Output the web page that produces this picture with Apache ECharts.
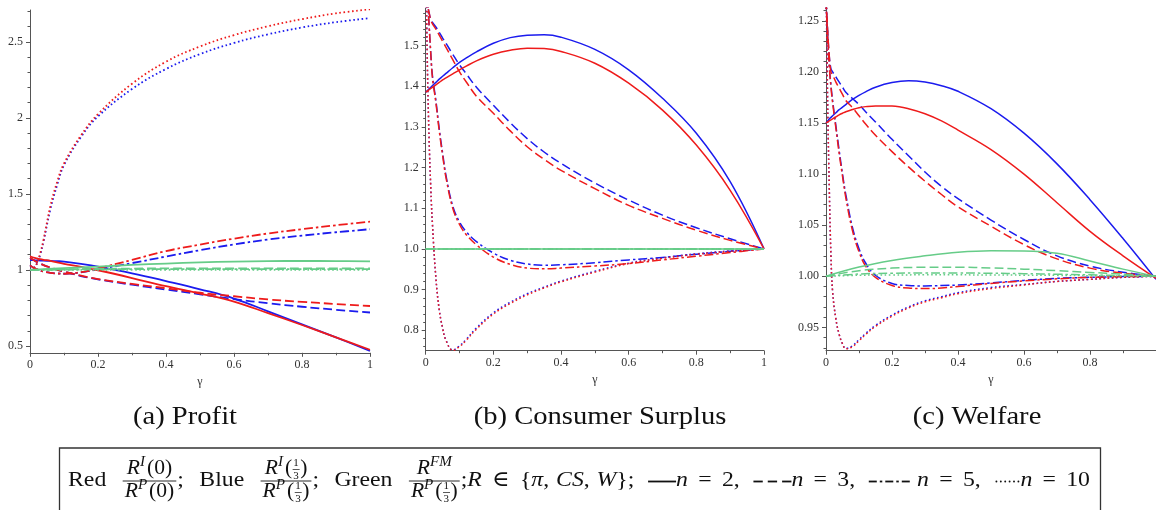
<!DOCTYPE html>
<html><head><meta charset="utf-8">
<script src="https://cdn.jsdelivr.net/npm/echarts@6/dist/echarts.min.js"></script>
<style>html,body{margin:0;padding:0;background:#fff}#c{width:1156px;height:510px}</style>
</head><body><div id="c"></div>
<script>
// ================= DATA =================
// (a) Profit
const gammaA = [0, 0.01, 0.02, 0.03, 0.04, 0.06, 0.08, 0.1, 0.15, 0.2, 0.3, 0.4, 0.5, 0.6, 0.7, 0.8, 0.9, 1];
const profitRedN2  = [1.09, 1.082, 1.076, 1.071, 1.067, 1.06, 1.05, 1.04, 1.02, 0.998, 0.947, 0.893, 0.845, 0.792, 0.716, 0.638, 0.557, 0.475];
const profitBlueN2 = [1.065, 1.064, 1.063, 1.062, 1.061, 1.06, 1.058, 1.055, 1.04, 1.022, 0.978, 0.927, 0.873, 0.812, 0.728, 0.642, 0.556, 0.468];
const profitRedN3  = [1.08, 1.066, 1.053, 1.042, 1.032, 1.016, 1.001, 0.99, 0.962, 0.94, 0.908, 0.88, 0.85, 0.827, 0.806, 0.79, 0.776, 0.763];
const profitBlueN3 = [1.08, 1.066, 1.053, 1.042, 1.032, 1.016, 1.001, 0.989, 0.96, 0.938, 0.903, 0.871, 0.84, 0.808, 0.781, 0.758, 0.738, 0.72];
const profitRedN5  = [1.03, 1.015, 1.005, 0.996, 0.989, 0.981, 0.977, 0.975, 0.985, 1.01, 1.066, 1.124, 1.167, 1.206, 1.24, 1.268, 1.294, 1.318];
const profitBlueN5 = [1.03, 1.015, 1.005, 0.996, 0.989, 0.981, 0.977, 0.975, 0.984, 1.005, 1.045, 1.088, 1.13, 1.168, 1.2, 1.226, 1.248, 1.268];
const profitRedN10  = [1.0, 1.01, 1.04, 1.11, 1.2, 1.42, 1.58, 1.7, 1.885, 2.025, 2.225, 2.37, 2.47, 2.545, 2.603, 2.65, 2.688, 2.715];
const profitBlueN10 = [1.0, 1.01, 1.04, 1.1, 1.19, 1.4, 1.56, 1.69, 1.875, 2.01, 2.19, 2.322, 2.42, 2.493, 2.55, 2.595, 2.63, 2.657];
const gammaAg = [0, 0.1, 0.2, 0.3, 0.4, 0.5, 0.6, 0.7, 0.8, 0.9, 1];
const profitGreenN2  = [1.0, 1.012, 1.022, 1.033, 1.042, 1.05, 1.055, 1.058, 1.059, 1.058, 1.056];
const profitGreenN3  = [1.0, 1.004, 1.007, 1.009, 1.01, 1.011, 1.011, 1.011, 1.011, 1.01, 1.01];
const profitGreenN5  = [1.0, 1.002, 1.004, 1.005, 1.006, 1.006, 1.006, 1.006, 1.006, 1.006, 1.006];
const profitGreenN10 = [1.0, 1.0005, 1.001, 1.001, 1.001, 1.001, 1.001, 1.001, 1.001, 1.001, 1.001];

// (b) Consumer Surplus
const gammaB = [0, 0.005, 0.01, 0.015, 0.02, 0.03, 0.04, 0.05, 0.06, 0.08, 0.1, 0.12, 0.15, 0.2, 0.25, 0.3, 0.35, 0.4, 0.5, 0.6, 0.7, 0.8, 0.9, 1];
const csRedN2  = [1.385, 1.388, 1.391, 1.394, 1.397, 1.403, 1.409, 1.415, 1.42, 1.43, 1.44, 1.449, 1.462, 1.478, 1.488, 1.493, 1.492, 1.485, 1.456, 1.407, 1.341, 1.255, 1.144, 1.0];
const csBlueN2 = [1.385, 1.389, 1.393, 1.397, 1.401, 1.409, 1.417, 1.424, 1.431, 1.445, 1.458, 1.469, 1.484, 1.505, 1.519, 1.525, 1.526, 1.52, 1.49, 1.44, 1.37, 1.284, 1.165, 1.0];
const csRedN3  = [1.62, 1.6, 1.58, 1.562, 1.553, 1.54, 1.525, 1.51, 1.495, 1.465, 1.435, 1.41, 1.375, 1.333, 1.29, 1.251, 1.22, 1.193, 1.148, 1.107, 1.075, 1.046, 1.021, 1.0];
const csBlueN3 = [1.62, 1.6, 1.58, 1.563, 1.556, 1.545, 1.532, 1.518, 1.505, 1.478, 1.452, 1.43, 1.397, 1.353, 1.31, 1.271, 1.238, 1.21, 1.162, 1.12, 1.083, 1.052, 1.025, 1.0];
const csRedN5  = [1.7, 1.62, 1.55, 1.48, 1.42, 1.36, 1.29, 1.23, 1.175, 1.1, 1.06, 1.035, 1.01, 0.98, 0.962, 0.953, 0.951, 0.953, 0.958, 0.964, 0.973, 0.982, 0.991, 1.0];
const csBlueN5 = [1.7, 1.62, 1.55, 1.48, 1.425, 1.365, 1.295, 1.235, 1.18, 1.105, 1.066, 1.042, 1.018, 0.99, 0.972, 0.963, 0.96, 0.961, 0.966, 0.973, 0.979, 0.987, 0.994, 1.0];
const csRedN10  = [1.75, 1.45, 1.27, 1.15, 1.06, 0.93, 0.85, 0.805, 0.775, 0.751, 0.76, 0.776, 0.803, 0.84, 0.866, 0.887, 0.904, 0.919, 0.943, 0.964, 0.977, 0.987, 0.994, 1.0];
const csBlueN10 = [1.75, 1.45, 1.27, 1.15, 1.06, 0.93, 0.851, 0.806, 0.776, 0.752, 0.762, 0.778, 0.806, 0.843, 0.869, 0.89, 0.906, 0.921, 0.945, 0.965, 0.978, 0.988, 0.995, 1.0];
const gammaBg = [0, 0.5, 1];
const csGreenN2  = [1.0, 1.0, 1.0];
const csGreenN3  = [1.0, 1.0, 1.0];
const csGreenN5  = [1.0, 1.0, 1.0];
const csGreenN10 = [1.0, 1.0, 1.0];

// (c) Welfare
const gammaC = [0, 0.005, 0.01, 0.015, 0.02, 0.03, 0.04, 0.05, 0.06, 0.08, 0.1, 0.12, 0.15, 0.2, 0.25, 0.3, 0.35, 0.4, 0.5, 0.6, 0.7, 0.8, 0.9, 1];
const wRedN2  = [1.15, 1.151, 1.152, 1.153, 1.154, 1.156, 1.158, 1.1595, 1.161, 1.1632, 1.165, 1.166, 1.1667, 1.1665, 1.164, 1.159, 1.152, 1.143, 1.124, 1.1, 1.072, 1.044, 1.02, 0.998];
const wBlueN2 = [1.15, 1.152, 1.154, 1.1555, 1.157, 1.16, 1.163, 1.1655, 1.168, 1.173, 1.177, 1.1805, 1.185, 1.1895, 1.1912, 1.19, 1.1865, 1.181, 1.164, 1.14, 1.11, 1.075, 1.037, 0.997];
const wRedN3  = [1.27, 1.24, 1.215, 1.2, 1.197, 1.19, 1.184, 1.178, 1.172, 1.165, 1.157, 1.149, 1.138, 1.122, 1.107, 1.093, 1.08, 1.068, 1.049, 1.031, 1.017, 1.008, 1.003, 1.0];
const wBlueN3 = [1.27, 1.24, 1.215, 1.203, 1.2, 1.195, 1.19, 1.185, 1.18, 1.174, 1.168, 1.161, 1.151, 1.134, 1.118, 1.102, 1.088, 1.076, 1.055, 1.036, 1.02, 1.01, 1.004, 1.0];
const wRedN5  = [1.27, 1.235, 1.205, 1.185, 1.17, 1.145, 1.12, 1.098, 1.077, 1.045, 1.024, 1.01, 0.999, 0.991, 0.9885, 0.988, 0.9885, 0.99, 0.993, 0.9955, 0.9975, 0.999, 0.9997, 1.0];
const wBlueN5 = [1.27, 1.235, 1.205, 1.187, 1.172, 1.147, 1.123, 1.1, 1.08, 1.048, 1.027, 1.013, 1.001, 0.993, 0.991, 0.9905, 0.991, 0.9915, 0.9935, 0.996, 0.998, 0.999, 0.9997, 1.0];
const wRedN10  = [1.3, 1.17, 1.085, 1.02, 0.985, 0.958, 0.943, 0.934, 0.929, 0.931, 0.937, 0.943, 0.951, 0.961, 0.969, 0.975, 0.979, 0.983, 0.988, 0.9915, 0.995, 0.997, 0.999, 1.0];
const wBlueN10 = [1.3, 1.17, 1.085, 1.02, 0.985, 0.958, 0.943, 0.934, 0.9295, 0.932, 0.938, 0.944, 0.952, 0.962, 0.97, 0.976, 0.98, 0.984, 0.989, 0.992, 0.995, 0.997, 0.999, 1.0];
const gammaCg = [0, 0.1, 0.2, 0.3, 0.4, 0.5, 0.6, 0.7, 0.8, 0.9, 1];
const wGreenN2  = [1.0, 1.009, 1.0155, 1.02, 1.0235, 1.025, 1.0248, 1.0225, 1.015, 1.007, 1.0];
const wGreenN3  = [1.0, 1.0055, 1.008, 1.0088, 1.0088, 1.0082, 1.007, 1.0055, 1.0038, 1.002, 1.0];
const wGreenN5  = [1.0, 1.0022, 1.003, 1.0032, 1.0032, 1.003, 1.0026, 1.002, 1.0014, 1.0007, 1.0];
const wGreenN10 = [1.0, 1.001, 1.0013, 1.0014, 1.0014, 1.0013, 1.0011, 1.0009, 1.0006, 1.0003, 1.0];

// tick labels
const xTicksAB = [0, 0.2, 0.4, 0.6, 0.8, 1];
const xTicksC = [0, 0.2, 0.4, 0.6, 0.8];
const xMinorTicks = [0.1, 0.3, 0.5, 0.7, 0.9];
const yTicksA = [0.5, 1, 1.5, 2, 2.5];
const yTicksB = [0.8, 0.9, 1.0, 1.1, 1.2, 1.3, 1.4, 1.5];
const yTicksC = [0.95, 1.0, 1.05, 1.1, 1.15, 1.2, 1.25];
const captions = ['(a) Profit', '(b) Consumer Surplus', '(c) Welfare'];

// ================= STYLE / BUILD =================
const FF = '"Liberation Serif","DejaVu Serif",serif';
const RED = '#ee1b1b', BLUE = '#1b1bee', GREEN = '#66cc88';
const DASH = [9, 4], DASHDOT = [9, 3, 2.5, 3], DOT = [1.6, 2.6];
const AX = '#555';

function minorList(from, to, div, skipEvery) {
  const out = [];
  for (let i = from; i <= to; i++) if (i % skipEvery !== 0) out.push(Math.round(i / div * 1000) / 1000);
  return out;
}
const yMinorA = minorList(5, 27, 10, 5);
const yMinorB = minorList(38, 79, 50, 5);
const yMinorC = minorList(93, 126, 100, 5);

const grids = [
  { left: 30, top: 10, width: 340, height: 342.8, containLabel: false },
  { left: 425.7, top: 8.3, width: 338.3, height: 342.4, containLabel: false },
  { left: 826, top: 8.3, width: 333.3, height: 342.4, containLabel: false }
];
const yRange = [[0.455, 2.71], [0.75, 1.591], [0.9272, 1.2622]];
const yMajors = [yTicksA, yTicksB, yTicksC];
const yMinors = [yMinorA, yMinorB, yMinorC];
const yFmt = [v => String(v), v => v.toFixed(1), v => v.toFixed(2)];
const xMajors = [xTicksAB, xTicksAB, xTicksC];

const xAxis = [], yAxis = [];
for (let g = 0; g < 3; g++) {
  xAxis.push({
    type: 'value', gridIndex: g, position: 'bottom', min: 0, max: 1,
    name: 'γ', nameLocation: 'middle', nameGap: 20,
    nameTextStyle: { fontFamily: FF, fontSize: 12, color: '#333' },
    axisLine: { show: true, onZero: false, lineStyle: { color: AX, width: 1 } },
    axisTick: { show: true, length: 4, customValues: xMajors[g], lineStyle: { color: AX } },
    axisLabel: { show: true, customValues: xMajors[g], formatter: v => String(v), margin: 6, fontFamily: FF, fontSize: 12, color: '#333' },
    splitLine: { show: false }
  });
  xAxis.push({
    type: 'value', gridIndex: g, position: 'bottom', min: 0, max: 1,
    axisLine: { show: false, onZero: false },
    axisTick: { show: true, length: 2.5, customValues: xMinorTicks, lineStyle: { color: AX } },
    axisLabel: { show: false }, splitLine: { show: false }
  });
  yAxis.push({
    type: 'value', gridIndex: g, position: 'left', min: yRange[g][0], max: yRange[g][1],
    axisLine: { show: true, onZero: false, lineStyle: { color: AX, width: 1 } },
    axisTick: { show: true, length: 4, customValues: yMajors[g], lineStyle: { color: AX } },
    axisLabel: { show: true, customValues: yMajors[g], formatter: yFmt[g], margin: 7, fontFamily: FF, fontSize: 12, color: '#333' },
    splitLine: { show: false }
  });
  yAxis.push({
    type: 'value', gridIndex: g, position: 'left', min: yRange[g][0], max: yRange[g][1],
    axisLine: { show: false, onZero: false },
    axisTick: { show: true, length: 2.5, customValues: yMinors[g], lineStyle: { color: AX } },
    axisLabel: { show: false }, splitLine: { show: false }
  });
}

const panels = [
  { lw: 1.8, curves: [
    [gammaA, profitBlueN2, BLUE, 'solid'], [gammaA, profitBlueN3, BLUE, DASH], [gammaA, profitBlueN5, BLUE, DASHDOT], [gammaA, profitBlueN10, BLUE, DOT],
    [gammaA, profitRedN2, RED, 'solid'], [gammaA, profitRedN3, RED, DASH], [gammaA, profitRedN5, RED, DASHDOT], [gammaA, profitRedN10, RED, DOT],
    [gammaAg, profitGreenN2, GREEN, 'solid'], [gammaAg, profitGreenN3, GREEN, DASH], [gammaAg, profitGreenN5, GREEN, DASHDOT], [gammaAg, profitGreenN10, GREEN, DOT]
  ]},
  { lw: 1.5, curves: [
    [gammaB, csBlueN2, BLUE, 'solid'], [gammaB, csBlueN3, BLUE, DASH], [gammaB, csBlueN5, BLUE, DASHDOT], [gammaB, csBlueN10, BLUE, DOT],
    [gammaB, csRedN2, RED, 'solid'], [gammaB, csRedN3, RED, DASH], [gammaB, csRedN5, RED, DASHDOT], [gammaB, csRedN10, RED, DOT],
    [gammaBg, csGreenN2, GREEN, 'solid'], [gammaBg, csGreenN3, GREEN, DASH], [gammaBg, csGreenN5, GREEN, DASHDOT], [gammaBg, csGreenN10, GREEN, DOT]
  ]},
  { lw: 1.5, curves: [
    [gammaC, wBlueN2, BLUE, 'solid'], [gammaC, wBlueN3, BLUE, DASH], [gammaC, wBlueN5, BLUE, DASHDOT], [gammaC, wBlueN10, BLUE, DOT],
    [gammaC, wRedN2, RED, 'solid'], [gammaC, wRedN3, RED, DASH], [gammaC, wRedN5, RED, DASHDOT], [gammaC, wRedN10, RED, DOT],
    [gammaCg, wGreenN2, GREEN, 'solid'], [gammaCg, wGreenN3, GREEN, DASH], [gammaCg, wGreenN5, GREEN, DASHDOT], [gammaCg, wGreenN10, GREEN, DOT]
  ]}
];

const series = [];
panels.forEach((p, g) => {
  p.curves.forEach(([gx, vals, color, dash]) => {
    series.push({
      type: 'line', xAxisIndex: g * 2, yAxisIndex: g * 2,
      data: gx.map((x, i) => [x, vals[i]]),
      showSymbol: false, symbol: 'none', smooth: 0.4,
      clip: true, silent: true, animation: false,
      lineStyle: { color, width: p.lw, type: dash, cap: 'butt', join: 'round' }
    });
  });
});

// ================= CAPTIONS & LEGEND (graphic) =================
const ctx = document.createElement('canvas').getContext('2d');
function mw(font, t) { ctx.font = font; return ctx.measureText(t).width; }
const up = s => s + 'px ' + FF;
const it = s => 'italic ' + s + 'px ' + FF;
const SX = 1.08;
const T = (t, s = 22) => ({ k: 't', t, f: up(s) });
const I = (t, s = 22) => ({ k: 't', t, f: it(s) });
const S = (t) => ({ k: 't', t, f: it(14), dy: -7 });
const G = (w) => ({ k: 'g', w });
const SF = () => ({ k: 'sf' });
const F = (num, den) => ({ k: 'f', num, den });
const RL = (style, w) => ({ k: 'r', style, w });

function pw(p) {
  if (p.k === 't') return mw(p.f, p.t) * SX;
  if (p.k === 'g') return p.w;
  if (p.k === 'sf') return mw(up(12), '1') + 2;
  if (p.k === 'f') return Math.max(seqW(p.num), seqW(p.den)) + 6;
  if (p.k === 'r') return p.w;
  return 0;
}
function seqW(arr) { return arr.reduce((s, p) => s + pw(p), 0); }
const els = [];
function txt(x, y, t, font, align) {
  els.push({ type: 'text', x, y, scaleX: SX, silent: true,
    style: { text: t, font, fill: '#111', align: align || 'left', textAlign: align || 'left', verticalAlign: 'middle', textVerticalAlign: 'middle' } });
}
function line(x1, y1, x2, y2, lw) {
  els.push({ type: 'line', silent: true, shape: { x1, y1, x2, y2 }, style: { stroke: '#111', lineWidth: lw } });
}
function renderSeq(arr, x, y) {
  arr.forEach(p => {
    const w = pw(p);
    if (p.k === 't') txt(x, y + (p.dy || 0), p.t, p.f);
    else if (p.k === 'sf') {
      els.push({ type: 'text', x: x + 1, y: y - 6, silent: true, style: { text: '1', font: up(11), fill: '#111', align: 'left', verticalAlign: 'middle' } });
      els.push({ type: 'text', x: x + 1, y: y + 7, silent: true, style: { text: '3', font: up(11), fill: '#111', align: 'left', verticalAlign: 'middle' } });
      line(x + 0.5, y + 0.5, x + w - 0.5, y + 0.5, 0.7);
    } else if (p.k === 'f') {
      const nw = seqW(p.num), dw = seqW(p.den);
      renderSeq(p.num, x + (w - nw) / 2, y - 11);
      renderSeq(p.den, x + (w - dw) / 2, y + 12);
      line(x + 1, y + 1, x + w - 1, y + 1, 0.9);
    } else if (p.k === 'r') {
      const yy = y + 1.5;
      if (p.style === 'solid') line(x, yy, x + w, yy, 1.8);
      else if (p.style === 'dash') { const d = (w - 10) / 3; for (let i = 0; i < 3; i++) line(x + i * (d + 5), yy, x + i * (d + 5) + d, yy, 1.8); }
      else if (p.style === 'dashdot') {
        let cx = x; const segs = [8, 3, 2.5, 3, 8, 3, 2.5, 3, 8];
        segs.forEach((s, i) => { if (i % 2 === 0) line(cx, yy, cx + s, yy, 1.8); cx += s; });
      } else if (p.style === 'dots') {
        for (let i = 0; i < 6; i++) els.push({ type: 'circle', silent: true, shape: { cx: x + 2 + i * 4.4, cy: yy, r: 0.95 }, style: { fill: '#111' } });
      }
    }
    x += w;
  });
}

const numI0 = [I('R', 20), S('I'), G(2), T('(0)', 20)];
const denP0 = [I('R', 20), S('P'), G(2), T('(0)', 20)];
const numI3 = [I('R', 20), S('I'), G(2), T('(', 20), SF(), T(')', 20)];
const denP3 = [I('R', 20), S('P'), G(2), T('(', 20), SF(), T(')', 20)];
const numFM = [I('R', 20), S('FM')];

const legendItems = [
  T('Red'), G(9), F(numI0, denP0), T(';'), G(9), T('Blue'), G(9), F(numI3, denP3), T(';'), G(9),
  T('Green'), G(9), F(numFM, denP3), T(';'),
  I('R'), G(6), T('∈'), G(6), T('{'), I('π'), T(','), G(4), I('CS'), T(','), G(4), I('W'), T('}'), T(';'), G(8),
  RL('solid', 28), I('n'), G(6), T('='), G(6), T('2,'), G(8),
  RL('dash', 38), I('n'), G(6), T('='), G(6), T('3,'), G(8),
  RL('dashdot', 38), G(6), I('n'), G(6), T('='), G(6), T('5,'), G(8),
  RL('dots', 26), I('n'), G(6), T('='), G(6), T('10')
];
// justify the legend line between x=68 and x=1090
(function () {
  const natural = seqW(legendItems);
  const gapSum = legendItems.filter(p => p.k === 'g').reduce((s, p) => s + p.w, 0);
  const f = Math.max(0.4, (gapSum + (1090 - 68 - natural)) / gapSum);
  legendItems.forEach(p => { if (p.k === 'g') p.w *= f; });
})();
renderSeq(legendItems, 68, 480);

els.push({ type: 'rect', silent: true, shape: { x: 59.5, y: 448, width: 1041, height: 80 }, style: { fill: 'none', stroke: '#333', lineWidth: 1.3 } });

const capX = [185, 600, 977];
captions.forEach((c, i) => {
  els.push({ type: 'text', x: capX[i], y: 417, scaleX: 1.1, silent: true,
    style: { text: c, font: up(26), fill: '#111', align: 'center', textAlign: 'center', verticalAlign: 'middle', textVerticalAlign: 'middle' } });
});

const chart = echarts.init(document.getElementById('c'), null, { renderer: 'canvas' });
chart.setOption({
  animation: false,
  backgroundColor: '#fff',
  grid: grids,
  xAxis, yAxis, series,
  graphic: { elements: els }
});
</script>
</body></html>
